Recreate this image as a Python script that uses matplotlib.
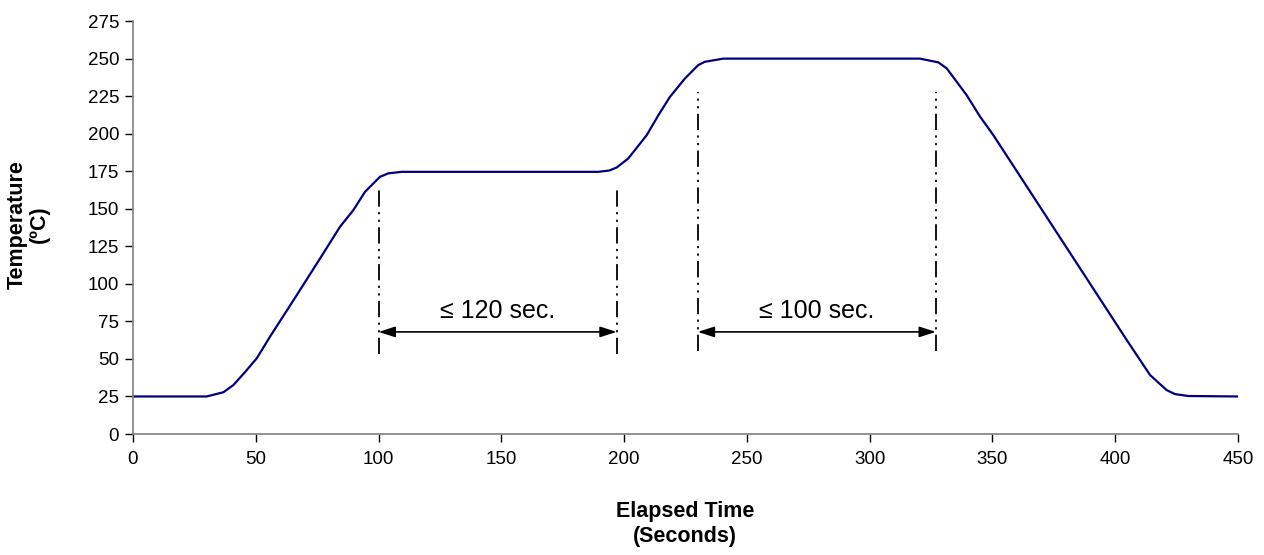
import matplotlib
matplotlib.use("Agg")
import matplotlib.pyplot as plt

plt.rcParams['font.family'] = ['Liberation Sans', 'DejaVu Sans']

# Reflow profile data (seconds, °C)
time_s = [0, 30, 36.8, 40.9, 45.5, 50.4, 55.8, 66.7, 77.5, 84.3, 89.7, 94.5, 100.6, 104, 109.4,
          189.5, 194, 197, 201.7, 209.2, 214, 218.7, 224.8, 230.2, 232.9, 240.4,
          320.5, 328, 331.4, 339.5, 345, 350.4, 404.7, 414.2, 420.9, 424.3, 429.8, 450]
temp_c = [25, 25, 27.8, 32.6, 41, 50.4, 64.8, 92.5, 120.3, 138, 149, 161.3, 171.3, 173.6, 174.6,
          174.6, 175.5, 177.5, 183.5, 199, 212.4, 224.6, 236.8, 245.7, 247.9, 250,
          250, 247.5, 243.5, 225.7, 211.3, 199, 62.6, 39.3, 29.3, 26.6, 25.3, 25]

x_ticks = list(range(0, 451, 50))
y_ticks = list(range(0, 276, 25))

# Dimension markers
dim1 = dict(x0=100, x1=197, ytop=165, ybot=53, yarrow=68, label="≤ 120 sec.")
dim2 = dict(x0=230, x1=327, ytop=228, ybot=55, yarrow=68, label="≤ 100 sec.")

fig = plt.figure(figsize=(12.64, 5.55), dpi=100)
ax = fig.add_axes([0.1052, 0.218, 0.8742, 0.744])

ax.plot(time_s, temp_c, color='#000080', lw=1.6)

ax.set_xlim(0, 450)
ax.set_ylim(0, 275)
ax.set_xticks(x_ticks)
ax.set_yticks(y_ticks)
ax.tick_params(axis='both', direction='out', length=6, width=1, colors='#000000', labelsize=13.5)
ax.tick_params(axis='x', pad=6)
ax.tick_params(axis='y', pad=4)
for s in ['top', 'right']:
    ax.spines[s].set_visible(False)
for s in ['left', 'bottom']:
    ax.spines[s].set_color('#808080')
    ax.spines[s].set_linewidth(1.2)

ls = (0, (9, 3, 1.2, 3, 1.2, 3))
for d in (dim1, dim2):
    for xv in (d['x0'], d['x1']):
        ax.plot([xv, xv], [d['ybot'], d['ytop']], color='black', lw=1.3, linestyle=ls)
    ax.annotate('', xy=(d['x0'], d['yarrow']), xytext=(d['x1'], d['yarrow']),
                arrowprops=dict(arrowstyle='<|-|>,head_length=1.0,head_width=0.32',
                                color='black', lw=1.2, shrinkA=0, shrinkB=0))
    ax.text((d['x0'] + d['x1']) / 2, d['yarrow'] + 9, d['label'], ha='center', va='baseline',
            fontsize=18)

fig.text(0.0225, 0.596, "Temperature\n(ºC)", rotation=90, ha='center', va='center',
         fontsize=15.5, fontweight='bold', linespacing=1.1)
fig.text(0.542, 0.056, "Elapsed Time\n(Seconds)", ha='center', va='center',
         fontsize=15.5, fontweight='bold', linespacing=1.3)

fig.savefig("out.png", dpi=100)
